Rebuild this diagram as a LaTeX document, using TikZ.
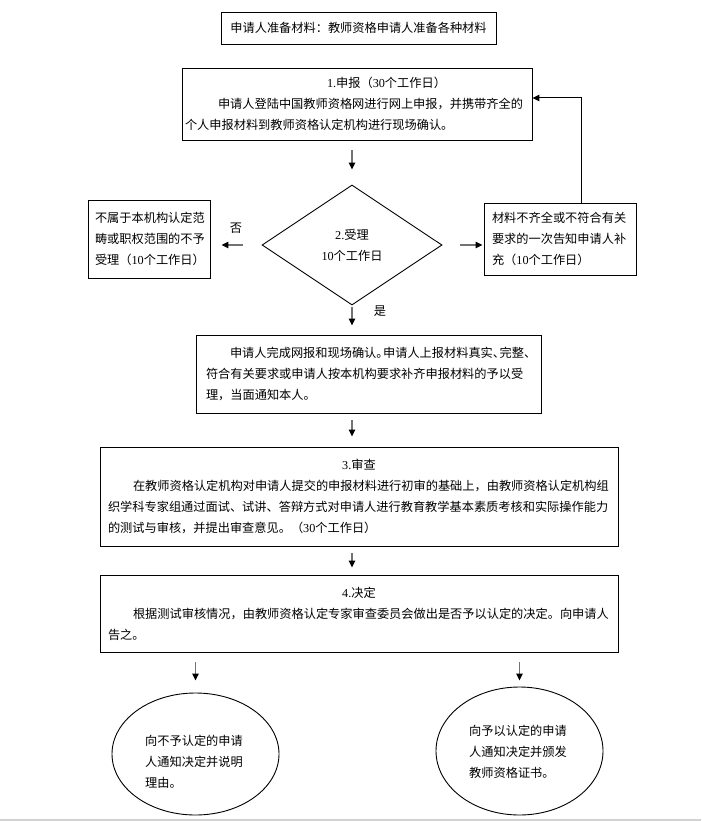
\documentclass[tikz,border=0pt]{standalone}
\usepackage{fontspec}
\newfontfamily\cjk{Noto Sans CJK SC}
\newfontfamily\lat{Liberation Serif}
\usetikzlibrary{shapes.geometric}
\usetikzlibrary{arrows.meta}
\newcommand{\dg}[1]{{\lat #1}}
\newcommand{\hw}[1]{\makebox[0.55em][l]{#1}}

\begin{document}
\begin{tikzpicture}[x=1pt, y=-1pt,
    every node/.style={font=\cjk\fontsize{12.2}{21}\selectfont},
    procbox/.style={draw=black, line width=0.9pt, inner xsep=#1, inner ysep=0pt, align=left},
    procbox/.default=3pt,
    oval/.style={ellipse, draw=black, line width=0.9pt, inner sep=0pt},
    arr/.style={draw=black!55, line width=1.2pt, -{Triangle[length=7pt,width=6.5pt,color=black]}},
    fb/.style={draw=black, line width=1pt, -{Triangle[length=7pt,width=6.5pt]}}]
        \fill[white] (0,0) rectangle (701,821);
        \useasboundingbox (0,0) rectangle (701,821);

        % start
        \node (prep) at (358.5,28) [procbox, align=center, minimum width=275pt, minimum height=32pt] {申请人准备材料：教师资格申请人准备各种材料};

        % 1 apply
        \node (apply) at (357,104) [procbox=3pt, text width=344pt, minimum height=72pt] {\hspace*{142pt}\dg{1.}申报（\dg{30}个工作日）\\
            \hspace*{33pt}申请人登陆中国教师资格网进行网上申报，并携带齐全的\\
            个人申报材料到教师资格认定机构进行现场确认。};

        % 2 check
        \node (check) at (352,245) [diamond, draw=black, line width=0.9pt, minimum width=180pt, minimum height=120pt, inner sep=0pt, align=center] {\dg{2.}受理\\\dg{10}个工作日};
        \node (refuse) at (149,239) [procbox=7pt, text width=108pt, minimum height=78pt] {不属于本机构认定范\\畴或职权范围的不予\\受理（\dg{10}个工作日）};
        \node (supply) at (560,239) [procbox=8pt, text width=136pt, minimum height=72pt] {材料不齐全或不符合有关\\要求的一次告知申请人补\\充（\dg{10}个工作日）};
        \node (fou) at (236,228) {否};
        \node (shi) at (380,311) {是};

        % accepted
        \node (accept) at (368.5,374) [procbox=10pt, text width=325pt, minimum height=78pt] {\hspace*{24pt}申请人完成网报和现场确认\hw{。}申请人上报材料真实\hw{、}完整\hw{、}\\
            符合有关要求或申请人按本机构要求补齐申报材料的予以受\\
            理，当面通知本人。};

        % 3 review
        \node (review) at (359,496.5) [procbox=8pt, text width=502pt, minimum height=99pt] {\makebox[\linewidth]{\dg{3.}审查}\\
            \hspace*{25pt}在教师资格认定机构对申请人提交的申报材料进行初审的基础上，由教师资格认定机构组\\
            织学科专家组通过面试、试讲、答辩方式对申请人进行教育教学基本素质考核和实际操作能力\\
            的测试与审核，并提出审查意见。（\dg{30}个工作日）};

        % 4 decide
        \node (decide) at (359,613.5) [procbox=8pt, text width=502pt, minimum height=77pt] {\makebox[\linewidth]{\dg{4.}决定}\\
            \hspace*{25pt}根据测试审核情况，由教师资格认定专家审查委员会做出是否予以认定的决定。向申请人\\
            告之。};

        % outcomes
        \node (no) at (195.5,754) [oval, minimum width=167pt, minimum height=122pt] {};
        \node (notext) at (194,762) [align=left] {向不予认定的申请\\人通知决定并说明\\理由。};
        \node (yes) at (519.5,751) [oval, minimum width=167pt, minimum height=128pt] {};
        \node (yestext) at (518,752) [align=left] {向予以认定的申请\\人通知决定并颁发\\教师资格证书。};

        % connections
        \coordinate (turn) at (581,98);
        \draw[arr, shorten <=10pt, shorten >=15pt] (apply.south -| check.north) -- (check.north);
        \draw[arr, shorten <=19pt, shorten >=11pt] (check.west) -- (check.west -| refuse.east);
        \draw[arr, shorten <=18pt, shorten >=1pt] (check.east) -- (check.east -| supply.west);
        \draw[fb] (supply.north -| turn) -- (turn) -- (apply.east |- turn);
        \draw[arr, shorten <=2pt, shorten >=9pt] (check.south) -- (check.south |- accept.north);
        \draw[arr, shorten <=7pt, shorten >=10pt] (accept.south -| check.south) -- (review.north -| check.south);
        \draw[arr, shorten <=7pt, shorten >=7pt] (review.south -| check.south) -- (decide.north -| check.south);
        \draw[arr, shorten <=10pt, shorten >=12pt] (decide.south -| no.north) -- (no.north);
        \draw[arr, shorten <=10pt, shorten >=6pt] (decide.south -| yes.north) -- (yes.north);

        % page edge
        \draw[gray!35, line width=2pt] (0,819.5) -- (701,819.5);
    \end{tikzpicture}
\end{document}
